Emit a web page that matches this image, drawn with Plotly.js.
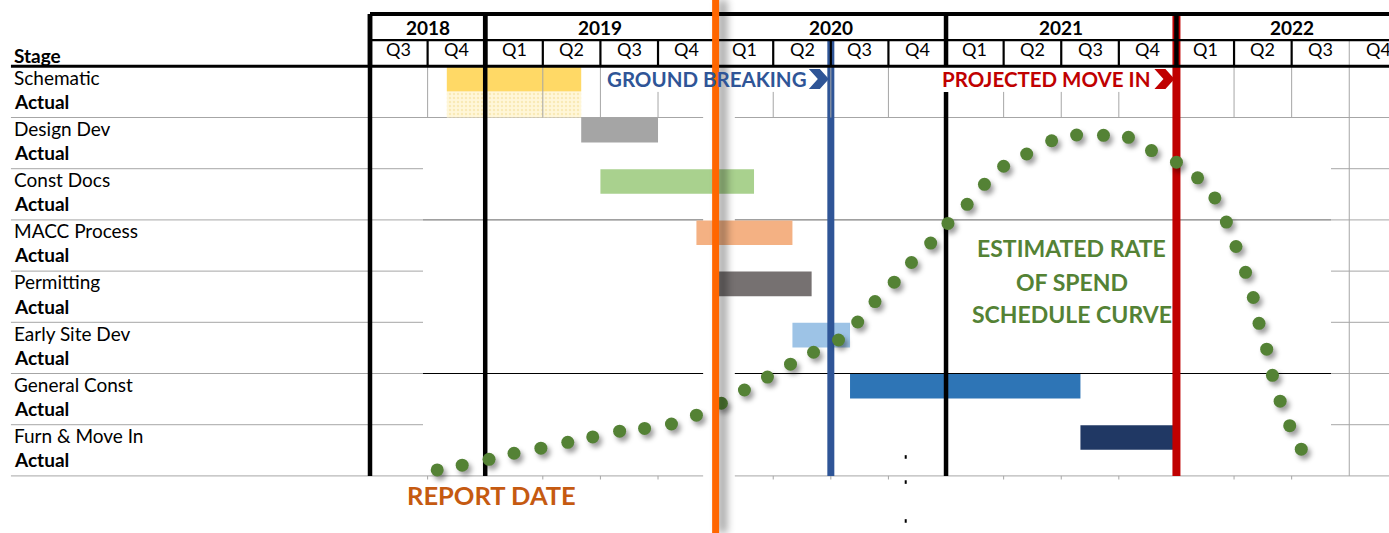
<!DOCTYPE html>
<html>
<head>
<meta charset="utf-8">
<script src="https://cdn.plot.ly/plotly-3.0.1.min.js"></script>
<style>
  html, body { margin: 0; padding: 0; background: #ffffff; }
  #chart { width: 1389px; height: 533px; }
  .scatterlayer .points path { filter: drop-shadow(3px 4px 2.5px rgba(0,0,0,0.38)); }
</style>
</head>
<body>
<div id="chart"></div>
<script>
// ---------------- DATA ----------------
// x unit: months since start of 2018 Q3 (Jul 2018 = 0)
const years = ['2018', '2019', '2020', '2021', '2022'];
const yearStartMonth = [0, 6, 18, 30, 42];
const yearEndMonth = [6, 18, 30, 42, 54];
const quarterLabels = ['Q3','Q4','Q1','Q2','Q3','Q4','Q1','Q2','Q3','Q4','Q1','Q2','Q3','Q4','Q1','Q2','Q3','Q4'];

const stages = ['Schematic', 'Design Dev', 'Const Docs', 'MACC Process', 'Permitting', 'Early Site Dev', 'General Const', 'Furn & Move In'];
const actualLabel = 'Actual';
const planStart = [4, 11, 12, 17, 18, 22, 25, 37];
const planEnd   = [11, 15, 20, 22, 23, 25, 37, 42];
const planColors = ['#FFD966', '#A5A5A5', '#A9D18E', '#F4B183', '#767171', '#9DC3E6', '#2E75B6', '#203864'];
const actualStageIdx = [0];
const actualStart = [4];
const actualEnd = [11];

const milestoneNames  = ['REPORT DATE', 'GROUND BREAKING', 'PROJECTED MOVE IN'];
const milestoneMonth  = [18, 24, 42];
const milestoneColors = ['#FF6600', '#2F5597', '#C00000'];

const spendTitle = ['ESTIMATED RATE', 'OF SPEND', 'SCHEDULE CURVE'];
const spendMonth = [3.5, 4.8, 6.2, 7.5, 8.9, 10.3, 11.6, 13.0, 14.3, 15.7, 17.0, 18.3, 19.5, 20.7, 21.9, 23.1, 24.4, 25.4, 26.3, 27.3, 28.2, 29.2, 30.1, 31.1, 32.0, 33.0, 34.2, 35.5, 36.8, 38.2, 39.5, 40.7, 42.0, 43.1, 44.0, 44.6, 45.1, 45.6, 46.0, 46.3, 46.7, 47.0, 47.4, 47.9, 48.5];
const spendRate  = [1.5, 2.9, 4.6, 6.4, 7.9, 9.6, 11.2, 12.9, 13.7, 15.0, 17.6, 21.1, 25.0, 28.8, 32.6, 36.1, 39.7, 45.0, 51.0, 56.7, 62.5, 68.2, 74.0, 79.6, 85.5, 90.8, 94.4, 98.3, 100.0, 99.9, 99.3, 95.4, 92.0, 87.4, 81.5, 74.4, 67.2, 59.6, 52.2, 44.6, 37.0, 29.3, 21.7, 14.5, 7.6];

// ---------------- LAYOUT CONSTANTS ----------------
const FONT = 'Lato, "Open Sans", "DejaVu Sans", sans-serif';
const X_RANGE = [-19.27, 53.07];
const Y_RANGE = [18.23, -2.59];        // rows, reversed
const Y2_RANGE = [-17.06, 139.7];      // spend rate
const HDR_TOP = -2.04, HDR_MID = -1.02, HDR_BOT = 0;
const ROWS = stages.length * 2;         // 16
const LEFT_X = -18.7, LABEL_END = 2.76, RIGHT_START = 50.05, X_END = 53.2;
const LAST_Q = 51;

const traces = [];

// planned bars (centred in their sub-row)
traces.push({
  type: 'bar', orientation: 'h',
  y: stages.map((s, i) => 2 * i + 0.5),
  base: planStart,
  x: planEnd.map((e, i) => e - planStart[i]),
  width: 0.96,
  marker: { color: planColors, line: { width: 0 } },
  xaxis: 'x', yaxis: 'y', hoverinfo: 'skip', showlegend: false
});
// actual bars
traces.push({
  type: 'bar', orientation: 'h',
  y: actualStageIdx.map(i => 2 * i + 1.5),
  base: actualStart,
  x: actualEnd.map((e, i) => e - actualStart[i]),
  width: 1.0,
  marker: { color: '#FFF7D9', line: { width: 0 },
            pattern: { shape: '.', fgcolor: '#F1DC91', size: 4, solidity: 0.3, fillmode: 'overlay' } },
  xaxis: 'x', yaxis: 'y', hoverinfo: 'skip', showlegend: false
});

// thick black structural verticals (year boundaries through body)
function segs(xs, y0s, y1s) {
  const X = [], Y = [];
  xs.forEach((x, i) => { X.push(x, x, null); Y.push(y0s[i], y1s[i], null); });
  return { X, Y };
}
const bodyYearLines = [yearStartMonth[0], yearStartMonth[1], yearStartMonth[3]];
const s1 = segs(bodyYearLines, [HDR_TOP, HDR_TOP, 1.0], [ROWS, ROWS, ROWS]);
traces.push({ type: 'scatter', mode: 'lines', x: s1.X, y: s1.Y, line: { color: '#000000', width: 4.5 },
  xaxis: 'x', yaxis: 'y', hoverinfo: 'skip', showlegend: false, connectgaps: false });

// milestone lines (ground breaking & move in) between bars and curve
traces.push({ type: 'scatter', mode: 'lines', x: [milestoneMonth[1], milestoneMonth[1]], y: [HDR_MID, ROWS],
  line: { color: milestoneColors[1], width: 7 }, xaxis: 'x', yaxis: 'y', hoverinfo: 'skip', showlegend: false });
traces.push({ type: 'scatter', mode: 'lines', x: [milestoneMonth[2], milestoneMonth[2]], y: [HDR_TOP, ROWS],
  line: { color: milestoneColors[2], width: 8 }, xaxis: 'x', yaxis: 'y', hoverinfo: 'skip', showlegend: false });

// spend curve (dots)
traces.push({
  type: 'scatter', mode: 'markers', x: spendMonth, y: spendRate,
  marker: { color: '#548235', size: 13, line: { width: 0 } },
  xaxis: 'x', yaxis: 'y2', hoverinfo: 'skip', showlegend: false
});

// ---------------- SHAPES ----------------
const shapes = [];
function hl(y, x0, x1, color, w, layer) {
  shapes.push({ type: 'line', xref: 'x', yref: 'y', x0: x0, x1: x1, y0: y, y1: y, line: { color: color, width: w }, layer: layer || 'below' });
}
function vl(x, y0, y1, color, w, layer) {
  shapes.push({ type: 'line', xref: 'x', yref: 'y', x0: x, x1: x, y0: y0, y1: y1, line: { color: color, width: w }, layer: layer || 'below' });
}
const GRAY = '#A6A6A6';
// row separators
for (let k = 1; k <= stages.length; k++) {
  const y = 2 * k;
  if (k === 1 || k === stages.length) {
    hl(y, LEFT_X, X_END, GRAY, 1);
  } else if (k === 3) {
    hl(y, LEFT_X, LABEL_END, GRAY, 1);
    hl(y, LABEL_END, RIGHT_START, '#808080', 1.3);
    hl(y, RIGHT_START, X_END, GRAY, 1);
  } else if (k === 6) {
    hl(y, LEFT_X, LABEL_END, GRAY, 1);
    hl(y, LABEL_END, RIGHT_START, '#000000', 1);
    hl(y, RIGHT_START, X_END, GRAY, 1);
  } else {
    hl(y, LEFT_X, LABEL_END, GRAY, 1);
    hl(y, RIGHT_START, X_END, GRAY, 1);
  }
}
// white glow around report date line (hides grid lines)
shapes.push({ type: 'rect', xref: 'x', yref: 'y', x0: 17.35, x1: 19.0, y0: 0.1, y1: Y_RANGE[0],
  fillcolor: '#ffffff', line: { width: 0 }, layer: 'below' });

// quarter gridlines in the schematic row and header
const coveredTop = [15, 21, 33, 36, 39];
for (let m = 3; m < 54; m += 3) {
  if (yearStartMonth.indexOf(m) >= 0) continue;
  if (m === LAST_Q) {
    vl(m, HDR_MID, ROWS, GRAY, 1, 'above');
    continue;
  }
  vl(m, HDR_MID, HDR_BOT, '#000000', 2.2, 'above');
  vl(m, coveredTop.indexOf(m) >= 0 ? 1.0 : HDR_BOT, 2, GRAY, 1, 'above');
  vl(m, ROWS, ROWS + 0.14, GRAY, 1, 'below');
}
// header verticals at year boundaries
yearStartMonth.forEach(m => vl(m, HDR_TOP, HDR_BOT, '#000000', 4.5, 'above'));
// header horizontals
hl(HDR_TOP, 0, X_END, '#000000', 4, 'above');
hl(HDR_MID, 0, X_END, '#000000', 2.2, 'above');
hl(HDR_BOT, LEFT_X, X_END, '#000000', 3, 'above');

// small dash marks under the chart
[15.26, 16.24, 17.76].forEach(y => vl(27.9, y - 0.07, y + 0.07, '#000000', 2, 'above'));

// chevrons next to milestone labels
const chevron = 'M -22 10 L -11 10 L -2 0 L -11 -10 L -22 -10 L -13 0 Z';
[1, 2].forEach(i => {
  shapes.push({ type: 'path', xref: 'x', yref: 'y', xsizemode: 'pixel', ysizemode: 'pixel',
    xanchor: milestoneMonth[i], yanchor: 0.5, path: chevron,
    fillcolor: milestoneColors[i], line: { width: 0 }, layer: 'above' });
});
// report date line (on top of everything)
shapes.push({ type: 'line', xref: 'x', yref: 'paper', x0: milestoneMonth[0], x1: milestoneMonth[0], y0: 0, y1: 1,
  line: { color: milestoneColors[0], width: 7 }, layer: 'above' });

// ---------------- ANNOTATIONS ----------------
const ann = [];
function txt(x, y, text, size, color, xanchor, extra) {
  ann.push(Object.assign({ x: x, y: y, xref: 'x', yref: 'y', text: text, showarrow: false,
    xanchor: xanchor || 'center', yanchor: 'middle',
    font: { family: FONT, size: size, color: color || '#000000' } }, extra || {}));
}
const LABEL_X = -18.62;
txt(LABEL_X, -0.44, '<b>Stage</b>', 19, '#000', 'left');
stages.forEach((s, i) => {
  txt(LABEL_X, 2 * i + 0.42, s, 19, '#000', 'left');
  txt(LABEL_X, 2 * i + 1.37, '<b>' + actualLabel + '</b>', 19, '#000', 'left');
});
years.forEach((y, i) => txt((yearStartMonth[i] + yearEndMonth[i]) / 2, -1.52, '<b>' + y + '</b>', 19, '#000'));
quarterLabels.forEach((q, i) => txt(1.5 + 3 * i, -0.67, q, 18, '#000'));

txt(milestoneMonth[1], 0.5, '<b>' + milestoneNames[1] + '</b>', 20.5, milestoneColors[1], 'right', { xshift: -22 });
txt(milestoneMonth[2], 0.5, '<b>' + milestoneNames[2] + '</b>', 20.5, milestoneColors[2], 'right', { xshift: -24 });
txt(6.35, 16.75, '<b>' + milestoneNames[0] + '</b>', 25.5, '#C55A11');
spendTitle.forEach((t, i) => txt(36.56, [7.10, 8.41, 9.68][i], '<b>' + t + '</b>', 23, '#548235'));

const layout = {
  width: 1389, height: 533,
  margin: { l: 0, r: 0, t: 0, b: 0, pad: 0 },
  paper_bgcolor: '#ffffff', plot_bgcolor: '#ffffff',
  barmode: 'overlay', showlegend: false,
  xaxis: { range: X_RANGE, visible: false, fixedrange: true },
  yaxis: { range: Y_RANGE, visible: false, fixedrange: true },
  yaxis2: { range: Y2_RANGE, visible: false, overlaying: 'y', fixedrange: true },
  shapes: shapes,
  annotations: ann,
  font: { family: FONT }
};

const gd = document.getElementById('chart');
Plotly.newPlot(gd, traces, layout, { staticPlot: true, displayModeBar: false }).then(() => {
  gd.querySelectorAll('.shapelayer path').forEach(p => {
    const s = (p.style.stroke || '');
    if (s.indexOf('255, 102, 0') >= 0) p.style.filter = 'drop-shadow(7px 0px 4px rgba(0,0,0,0.45))';
  });
});
</script>
</body>
</html>
